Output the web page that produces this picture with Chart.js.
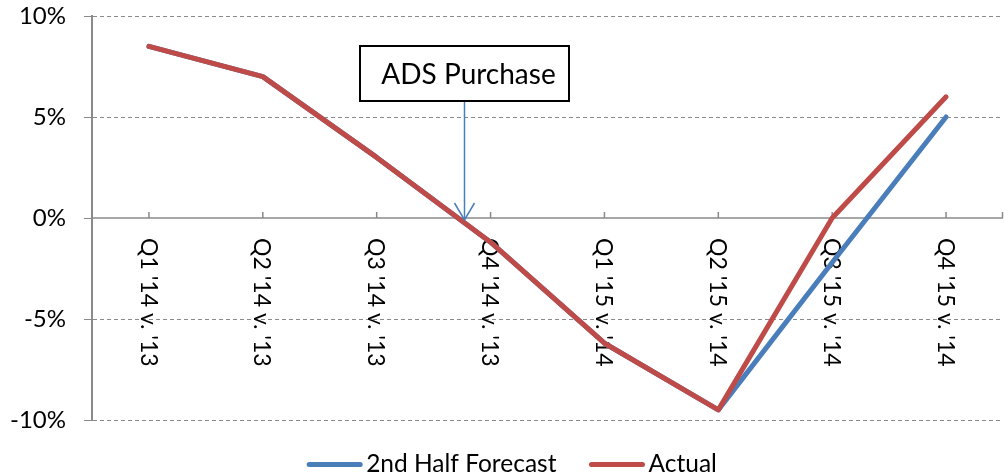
<!DOCTYPE html>
<html><head><meta charset="utf-8">
<script src="https://cdn.jsdelivr.net/npm/chart.js@4"></script>
<style>html,body{margin:0;padding:0;background:#fff}#wrap{width:1005px;height:476px;position:relative}</style>
</head><body><div id="wrap"><canvas id="c"></canvas></div>
<script>
const categories = ["Q1 '14 v. '13", "Q2 '14 v. '13", "Q3 '14 v. '13", "Q4 '14 v. '13", "Q1 '15 v. '14", "Q2 '15 v. '14", "Q3 '15 v. '14", "Q4 '15 v. '14"];
const forecast = [8.5, 7.0, 3.0, -1.2, -6.2, -9.5, -2.2, 5.0];
const actual   = [8.5, 7.0, 3.0, -1.2, -6.2, -9.5, 0.0, 6.0];
const yTicks = [-10, -5, 0, 5, 10];
const seriesNames = ["2nd Half Forecast", "Actual"];
const annotationText = "ADS Purchase";
const annotationAt = 2.77;

const BLUE = '#4a7ebb', RED = '#be4b48', GRID = '#8a8a8a', FONT = 'Lato';

const decor = {
  id: 'decor',
  beforeDatasetsDraw(chart) {
    const {ctx, chartArea: a, scales: {x, y}} = chart;
    const y0 = y.getPixelForValue(0);
    ctx.save();
    ctx.strokeStyle = GRID; ctx.lineWidth = 1.5;
    ctx.beginPath(); ctx.moveTo(a.left, y0); ctx.lineTo(a.right, y0); ctx.stroke();
    ctx.beginPath();
    categories.forEach((c, i) => { const px = x.getPixelForValue(i); ctx.moveTo(px, y0); ctx.lineTo(px, y0 - 6); });
    ctx.moveTo(a.right - 0.5, y0); ctx.lineTo(a.right - 0.5, y0 - 6);
    ctx.stroke();
    ctx.fillStyle = '#000'; ctx.font = '23px ' + FONT; ctx.textAlign = 'left'; ctx.textBaseline = 'middle';
    categories.forEach((c, i) => {
      const px = x.getPixelForValue(i);
      ctx.save(); ctx.translate(px - 1, y0 + 20); ctx.rotate(Math.PI / 2); ctx.fillText(c, 0, 0); ctx.restore();
    });
    ctx.restore();
  },
  afterDraw(chart) {
    const {ctx, scales: {x, y}} = chart;
    const y0 = y.getPixelForValue(0);
    const ax = Math.round(x.getPixelForValue(annotationAt)) + 0.5;
    ctx.save();
    ctx.strokeStyle = BLUE; ctx.lineWidth = 1.5;
    ctx.beginPath(); ctx.moveTo(ax, 101); ctx.lineTo(ax, y0 + 2); ctx.stroke();
    ctx.beginPath(); ctx.moveTo(ax - 10, y0 - 15); ctx.lineTo(ax, y0 + 2); ctx.lineTo(ax + 10, y0 - 15); ctx.stroke();
    const bw = 209, top = 46, bot = 101;
    ctx.fillStyle = '#fff'; ctx.fillRect(ax - bw / 2, top, bw, bot - top);
    ctx.strokeStyle = '#000'; ctx.lineWidth = 2;
    ctx.strokeRect(ax - bw / 2, top, bw, bot - top);
    ctx.fillStyle = '#000'; ctx.font = '28px ' + FONT; ctx.textAlign = 'center'; ctx.textBaseline = 'middle';
    ctx.fillText(annotationText, ax + 4, (top + bot) / 2 + 1);
    ctx.font = '24.5px ' + FONT; ctx.textBaseline = 'middle'; ctx.textAlign = 'left';
    const colors = [BLUE, RED];
    const lineLen = 55, gap = 4, spacing = 33, ly = 464.5;
    const widths = seriesNames.map(n => lineLen + gap + ctx.measureText(n).width);
    const total = widths.reduce((s, w) => s + w, 0) + spacing * (seriesNames.length - 1);
    let lx = 512 - total / 2;
    seriesNames.forEach((n, i) => {
      ctx.strokeStyle = colors[i]; ctx.lineWidth = 5; ctx.lineCap = 'round';
      ctx.beginPath(); ctx.moveTo(lx + 2, ly); ctx.lineTo(lx + lineLen - 2, ly); ctx.stroke();
      ctx.fillStyle = '#000'; ctx.fillText(n, lx + lineLen + gap, ly);
      lx += widths[i] + spacing;
    });
    ctx.restore();
  }
};

new Chart(document.getElementById('c'), {
  type: 'line',
  data: {
    labels: categories,
    datasets: [
      { label: seriesNames[0], data: forecast, borderColor: BLUE, backgroundColor: BLUE, borderWidth: 5, order: 2 },
      { label: seriesNames[1], data: actual, borderColor: RED, backgroundColor: RED, borderWidth: 5, order: 1 }
    ]
  },
  options: {
    responsive: true, maintainAspectRatio: false, animation: false,
    layout: { padding: { left: 0, right: 2, top: 16, bottom: 56 } },
    elements: { point: { radius: 0, hoverRadius: 0 }, line: { tension: 0, borderCapStyle: 'round', borderJoinStyle: 'round' } },
    plugins: { legend: { display: false }, tooltip: { enabled: false } },
    scales: {
      x: { display: false, offset: true },
      y: {
        min: -10, max: 10,
        afterBuildTicks: s => { s.ticks = yTicks.map(v => ({ value: v })); },
        afterFit: s => { s.width = 92; s.paddingTop = 0; s.paddingBottom = 0; s.paddingLeft = 0; s.paddingRight = 0; },
        ticks: { callback: v => v + '%', color: '#000', font: { family: FONT, size: 24 }, padding: 18 },
        grid: { color: c => (c.tick && c.tick.value === 0) ? 'rgba(0,0,0,0)' : GRID, lineWidth: 1, tickLength: 8, tickColor: GRID, tickBorderDash: [], drawTicks: true },
        border: { display: true, color: GRID, width: 2, dash: [4, 3] }
      }
    }
  },
  plugins: [decor]
});
</script></body></html>
